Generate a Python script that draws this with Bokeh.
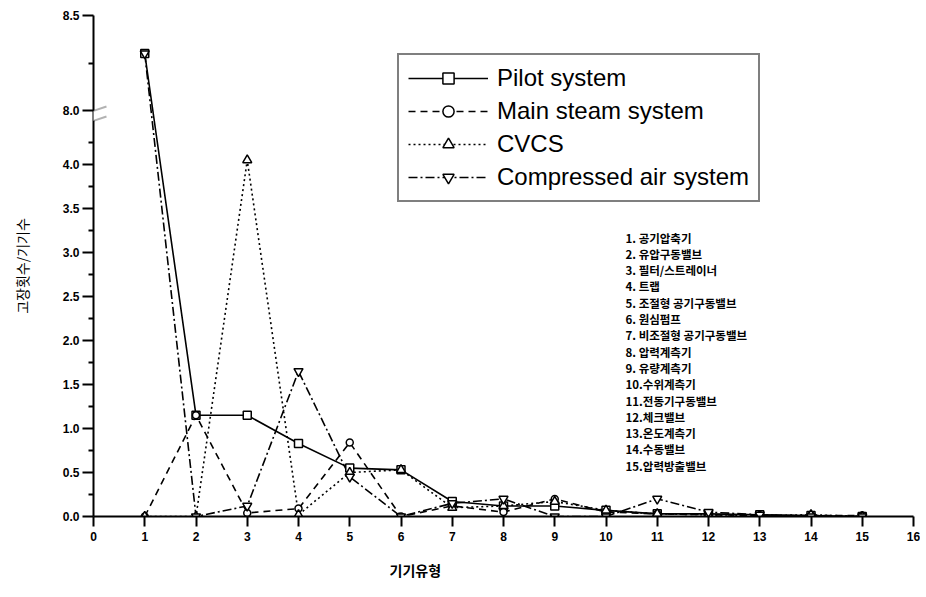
from bokeh.plotting import figure
from bokeh.models import (ColumnDataSource, CustomJSTransform, FixedTicker,
                          CustomJSTickFormatter, Range1d, Label, PolyAnnotation, Title)
from bokeh.transform import transform
from bokeh.embed import file_html
from bokeh.resources import INLINE

# ---------------- data ----------------
x_types = list(range(1, 16))
pilot = [8.3, 1.15, 1.15, 0.83, 0.55, 0.53, 0.17, 0.12, 0.12, 0.07, 0.03, 0.03, 0.02, 0.01, 0.0]
main_steam = [0.0, 1.15, 0.04, 0.09, 0.84, 0.0, 0.12, 0.05, 0.2, 0.05, 0.03, 0.02, 0.01, 0.01, 0.01]
cvcs = [0.0, 0.0, 4.05, 0.02, 0.5, 0.53, 0.1, 0.12, 0.17, 0.07, 0.03, 0.02, 0.01, 0.02, 0.0]
comp_air = [8.3, 0.0, 0.12, 1.65, 0.45, 0.0, 0.15, 0.2, 0.0, 0.0, 0.2, 0.05, 0.02, 0.0, 0.0]

y_major = [0.0, 0.5, 1.0, 1.5, 2.0, 2.5, 3.0, 3.5, 4.0, 8.0, 8.5]
y_minor = [0.25, 0.75, 1.25, 1.75, 2.25, 2.75, 3.25, 3.75, 4.25, 8.25]
x_ticks = list(range(0, 17))

type_names = ["1. 공기압축기", "2. 유압구동밸브", "3. 필터/스트레이너", "4. 트랩",
              "5. 조절형 공기구동밸브", "6. 원심펌프", "7. 비조절형 공기구동밸브",
              "8. 압력계측기", "9. 유량계측기", "10.수위계측기", "11.전동기구동밸브",
              "12.체크밸브", "13.온도계측기", "14.수동밸브", "15.압력방출밸브"]

series_names = ["Pilot system", "Main steam system", "CVCS", "Compressed air system"]

# ---------------- broken y axis (lower 0..4.5, upper 8.0..8.5) ----------------
LOW_TOP = 4.5
UP_BASE = 4.614
UP_SCALE = 2.16


def disp(v):
    return v if v <= LOW_TOP else UP_BASE + (v - 8.0) * UP_SCALE


brk = CustomJSTransform(
    args=dict(lt=LOW_TOP, ub=UP_BASE, us=UP_SCALE),
    func="return x <= lt ? x : ub + (x - 8) * us;",
    v_func="""
const out = new Float64Array(xs.length);
for (let i = 0; i < xs.length; i++) {
  const v = xs[i];
  out[i] = v <= lt ? v : ub + (v - 8) * us;
}
return out;
""")

src = ColumnDataSource(dict(x=x_types, pilot=pilot, main=main_steam, cvcs=cvcs, air=comp_air))

FONT = "Liberation Sans"
KFONT = "Noto Sans CJK KR"

p = figure(width=920, height=594, output_backend="svg", toolbar_location=None,
           x_range=Range1d(0, 16), y_range=Range1d(0, disp(8.5)),
           min_border_left=93, min_border_right=7, min_border_top=15, min_border_bottom=78)
p.outline_line_color = None
p.xgrid.visible = False
p.ygrid.visible = False
p.background_fill_color = "white"

styles = [
    ("pilot", "solid", "square", 8),
    ("main", "7 5", "circle", 7),
    ("cvcs", "2 3", "triangle", 9),
    ("air", "9 3 2 3", "inverted_triangle", 9),
]
for (col, dash, mk, sz), name in zip(styles, series_names):
    p.line("x", transform(col, brk), source=src, line_color="black", line_width=1.6,
           line_dash=dash, legend_label=name)
for (col, dash, mk, sz), name in zip(styles, series_names):
    p.scatter("x", transform(col, brk), source=src, marker=mk, size=sz,
              fill_color="white", line_color="black", line_width=1.5, legend_label=name)

# axes
p.xaxis.ticker = FixedTicker(ticks=x_ticks, minor_ticks=[])
p.yaxis.ticker = FixedTicker(ticks=[disp(v) for v in y_major],
                             minor_ticks=[disp(v) for v in y_minor])
p.yaxis.formatter = CustomJSTickFormatter(
    args=dict(lt=LOW_TOP, ub=UP_BASE, us=UP_SCALE),
    code="const v = tick <= lt + 1e-9 ? tick : 8 + (tick - ub) / us; return v.toFixed(1);")

for ax in (p.xaxis[0], p.yaxis[0]):
    ax.axis_line_width = 2
    ax.axis_line_color = "black"
    ax.major_tick_line_color = "black"
    ax.minor_tick_line_color = "black"
    ax.major_tick_line_width = 2
    ax.minor_tick_line_width = 2
    ax.major_tick_in = 0
    ax.minor_tick_in = 0
    ax.major_label_text_font = FONT
    ax.major_label_text_font_style = "bold"
    ax.major_label_text_font_size = "12px"
    ax.major_label_text_color = "black"

p.xaxis.major_tick_out = 10
p.xaxis.major_label_standoff = 5
p.yaxis.major_tick_out = 11
p.yaxis.minor_tick_out = 5
p.yaxis.major_label_standoff = 3

p.yaxis.axis_label = "고장횟수/기기수"
p.yaxis.axis_label_text_font = KFONT
p.yaxis.axis_label_text_font_style = "normal"
p.yaxis.axis_label_text_font_size = "14px"
p.yaxis.axis_label_text_color = "black"
p.yaxis.axis_label_standoff = 28

# x-axis title (placed left of centre as in the original)
p.add_layout(Title(text="기기유형", align="left", offset=296, standoff=28,
                   text_font=KFONT, text_font_style="bold", text_font_size="14px",
                   text_color="black"), "below")

# axis break marks
def py(px):
    return 516 - px

p.add_layout(PolyAnnotation(xs=[-14, 13, 13, -14], ys=[py(125), py(116), py(106), py(115)],
                            xs_units="screen", ys_units="screen",
                            fill_color="white", fill_alpha=1.0, line_color=None))
for a, b in ((115, 106), (125, 116)):
    p.add_layout(PolyAnnotation(xs=[-14, 13], ys=[py(a), py(b)],
                                xs_units="screen", ys_units="screen",
                                fill_color=None, line_color="black", line_width=2))

# list of equipment types
for i, t in enumerate(type_names):
    p.add_layout(Label(x=532, y=279 - i * 16.3, x_units="screen", y_units="screen", text=t,
                       text_font=KFONT, text_font_style="bold", text_font_size="11.5px",
                       text_align="left", text_baseline="middle", text_color="black"))

# legend
lg = p.legend[0]
lg.location = (304, 314)
lg.border_line_color = "black"
lg.border_line_width = 2
lg.background_fill_color = "white"
lg.background_fill_alpha = 1.0
lg.label_text_font = FONT
lg.label_text_font_size = "24px"
lg.label_text_color = "black"
lg.label_height = 28
lg.glyph_height = 28
lg.glyph_width = 80
lg.label_standoff = 9
lg.spacing = 5
lg.padding = 9
lg.margin = 0

open("out.html", "w").write(file_html(p, INLINE))
